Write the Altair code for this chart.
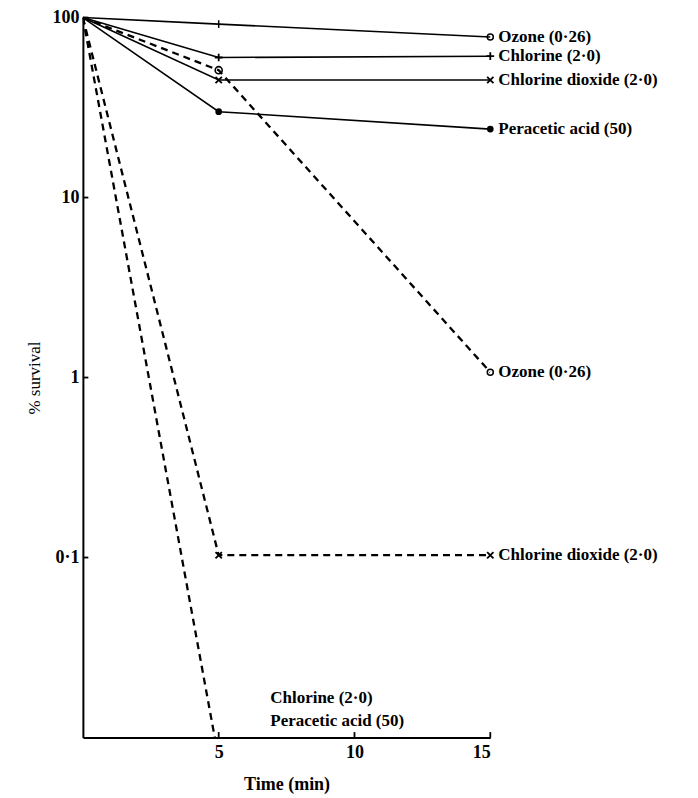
import altair as alt
import pandas as pd

# ---- data ----
times = [0, 5, 15]
ozone_solid = [100, 92, 78]
chlorine_solid = [100, 60, 61]
clo2_solid = [100, 45, 45]
peracetic_solid = [100, 30, 24]

ozone_dashed = [100, 51, 1.07]
clo2_dashed = [100, 0.103, 0.103]
cl_pa_times = [0, 5]
cl_pa_dashed = [100, 0.0076]

y_ticks = [0.1, 1, 10, 100]
x_ticks = [5, 10, 15]

end_labels = [
    ("Ozone (0·26)", 78),
    ("Chlorine (2·0)", 61),
    ("Chlorine dioxide (2·0)", 45),
    ("Peracetic acid (50)", 24),
    ("Ozone (0·26)", 1.07),
    ("Chlorine dioxide (2·0)", 0.103),
]
bottom_note = ["Chlorine (2·0)", "Peracetic acid (50)"]
bottom_note_pos = (6.9, 0.0166)

FONT = "Liberation Serif"

rows = []
for name, vals in [("oz_s", ozone_solid), ("cl_s", chlorine_solid),
                   ("clo2_s", clo2_solid), ("pa_s", peracetic_solid)]:
    for t, v in zip(times, vals):
        rows.append({"series": name, "style": "solid", "t": t, "v": v})
for name, ts, vals in [("oz_d", times, ozone_dashed), ("clo2_d", times, clo2_dashed),
                       ("clpa_d", cl_pa_times, cl_pa_dashed)]:
    for t, v in zip(ts, vals):
        rows.append({"series": name, "style": "dashed", "t": t, "v": v})
df = pd.DataFrame(rows)

xs = alt.Scale(domain=[0, 15], nice=False, zero=False)
ys = alt.Scale(type="log", domain=[0.01, 100], nice=False)

label_expr = "datum.value == 0.1 ? '0·1' : datum.value == 1 ? '1' : datum.value == 10 ? '10' : datum.value == 100 ? '100' : ''"

X = alt.X("t:Q", scale=xs, axis=alt.Axis(
    values=x_ticks, title="Time (min)", ticks=False, grid=False, domainColor="black",
    domainWidth=2, labelFont=FONT, labelFontSize=18, labelFontWeight="bold",
    labelColor="black", labelPadding=6, titleFont=FONT, titleFontSize=18,
    titleFontWeight="bold", titleColor="black", titlePadding=14))
Y = alt.Y("v:Q", scale=ys, axis=alt.Axis(
    values=y_ticks, labelExpr=label_expr, title="% survival", ticks=False,
    grid=False, domainColor="black", domainWidth=2, labelFont=FONT, labelFontSize=18,
    labelFontWeight="bold", labelColor="black", labelPadding=4, titleFont=FONT,
    titleFontSize=17, titleFontWeight="normal", titleColor="black", titlePadding=8))

base = alt.Chart(df)

solid = base.transform_filter(alt.datum.style == "solid").mark_line(
    color="black", strokeWidth=1.6).encode(x=X, y=Y, detail="series:N")
dashed = base.transform_filter(alt.datum.style == "dashed").mark_line(
    color="black", strokeWidth=2.3, strokeDash=[7, 5], clip=True).encode(
    x="t:Q", y="v:Q", detail="series:N")

def pts(series_list, t_list, **kw):
    return base.transform_filter(
        alt.FieldOneOfPredicate(field="series", oneOf=series_list)
    ).transform_filter(
        alt.FieldOneOfPredicate(field="t", oneOf=t_list)
    ).mark_point(color="black", opacity=1, **kw).encode(x="t:Q", y="v:Q")

open_c = pts(["oz_d", "oz_s"], [15], shape="circle", filled=False, size=36, strokeWidth=1.5)
open_c5 = pts(["oz_d"], [5], shape="circle", filled=False, size=50, strokeWidth=1.6)
tick_mark = pts(["oz_s"], [5], shape="M0,-1L0,1", filled=False, size=60, strokeWidth=1.5)
plus = pts(["cl_s"], [5, 15], shape="M-1,0L1,0M0,-1L0,1", filled=False, size=60, strokeWidth=1.8)
cross = pts(["clo2_s", "clo2_d"], [5, 15], shape="M-1,-1L1,1M-1,1L1,-1", filled=False, size=40, strokeWidth=1.8)
dot = pts(["pa_s"], [5, 15], shape="circle", filled=True, size=45)

lab_df = pd.DataFrame({"label": [l for l, _ in end_labels], "v": [v for _, v in end_labels], "t": 15})
labels = alt.Chart(lab_df).mark_text(
    align="left", baseline="middle", dx=8, font=FONT, fontSize=17, fontWeight="bold",
    color="black").encode(x="t:Q", y="v:Q", text="label:N")

note_df = pd.DataFrame({"t": [bottom_note_pos[0]], "v": [bottom_note_pos[1]],
                        "txt": ["\n".join(bottom_note)]})
note = alt.Chart(note_df).mark_text(
    align="left", baseline="middle", lineBreak="\n", lineHeight=23, font=FONT,
    fontSize=17, fontWeight="bold", color="black").encode(x="t:Q", y="v:Q", text="txt:N")

# inward axis ticks drawn as short symbols at the tick positions
ytick_df = pd.DataFrame({"v": y_ticks, "t": 0.1})
ytk = alt.Chart(ytick_df).mark_point(
    shape="M-1,0L1,0", filled=False, size=30, strokeWidth=1.8, color="black", opacity=1
).encode(x="t:Q", y="v:Q")
xtick_df = pd.DataFrame({"t": x_ticks, "v": 0.01035})
xtk = alt.Chart(xtick_df).mark_point(
    shape="M0,-1L0,1", filled=False, size=30, strokeWidth=1.8, color="black", opacity=1
).encode(x="t:Q", y="v:Q")

chart = alt.layer(solid, dashed, ytk, xtk, open_c, open_c5, tick_mark, plus, cross, dot,
                  labels, note).properties(
    width=408, height=721,
    autosize=alt.AutoSizeParams(type="none"),
    padding={"left": 75, "top": 9, "right": 200, "bottom": 62},
    view=alt.ViewBackground(stroke="transparent", strokeWidth=0),
).configure_view(strokeOpacity=0, strokeWidth=0, stroke="transparent").configure_axis(
    grid=False, ticks=False
).configure(background="white", style={"cell": {"stroke": "transparent", "strokeWidth": 0}})

chart.save("out.html", embed_options={"renderer": "svg", "actions": False})
